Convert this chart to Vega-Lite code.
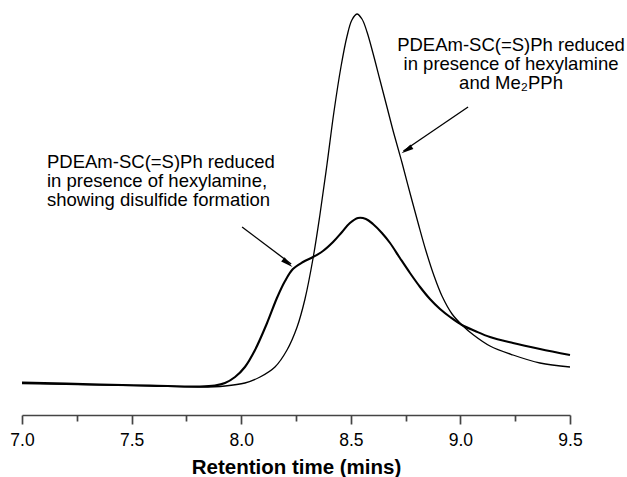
{
  "$schema": "https://vega.github.io/schema/vega-lite/v6.json",
  "autosize": {"type": "none"},
  "padding": {"left": 22, "top": 0, "right": 57, "bottom": 62},
  "width": 548,
  "height": 415,
  "background": "white",
  "config": {
    "view": {"stroke": null},
    "font": "Liberation Sans",
    "axis": {"grid": false}
  },
  "datasets": {
    "curves": [
      {"series": "thick", "time": 7.000, "signal": 32.5},
      {"series": "thick", "time": 7.356, "signal": 30.5},
      {"series": "thick", "time": 7.584, "signal": 29.5},
      {"series": "thick", "time": 7.812, "signal": 28.5},
      {"series": "thick", "time": 7.880, "signal": 29.5},
      {"series": "thick", "time": 7.926, "signal": 32},
      {"series": "thick", "time": 7.972, "signal": 38},
      {"series": "thick", "time": 8.017, "signal": 48},
      {"series": "thick", "time": 8.063, "signal": 65},
      {"series": "thick", "time": 8.118, "signal": 92},
      {"series": "thick", "time": 8.163, "signal": 117},
      {"series": "thick", "time": 8.200, "signal": 134},
      {"series": "thick", "time": 8.236, "signal": 146},
      {"series": "thick", "time": 8.282, "signal": 153},
      {"series": "thick", "time": 8.328, "signal": 158},
      {"series": "thick", "time": 8.373, "signal": 164},
      {"series": "thick", "time": 8.419, "signal": 173},
      {"series": "thick", "time": 8.460, "signal": 183},
      {"series": "thick", "time": 8.496, "signal": 192},
      {"series": "thick", "time": 8.533, "signal": 197},
      {"series": "thick", "time": 8.569, "signal": 196},
      {"series": "thick", "time": 8.601, "signal": 191},
      {"series": "thick", "time": 8.642, "signal": 182},
      {"series": "thick", "time": 8.679, "signal": 172},
      {"series": "thick", "time": 8.724, "signal": 157},
      {"series": "thick", "time": 8.770, "signal": 142},
      {"series": "thick", "time": 8.816, "signal": 128},
      {"series": "thick", "time": 8.861, "signal": 116},
      {"series": "thick", "time": 8.907, "signal": 106},
      {"series": "thick", "time": 8.953, "signal": 98},
      {"series": "thick", "time": 9.007, "signal": 90},
      {"series": "thick", "time": 9.067, "signal": 84},
      {"series": "thick", "time": 9.135, "signal": 78},
      {"series": "thick", "time": 9.240, "signal": 72},
      {"series": "thick", "time": 9.363, "signal": 66},
      {"series": "thick", "time": 9.500, "signal": 60},
      {"series": "thin", "time": 7.000, "signal": 31.5},
      {"series": "thin", "time": 7.356, "signal": 30},
      {"series": "thin", "time": 7.584, "signal": 29},
      {"series": "thin", "time": 7.812, "signal": 28},
      {"series": "thin", "time": 7.926, "signal": 29},
      {"series": "thin", "time": 8.017, "signal": 32},
      {"series": "thin", "time": 8.086, "signal": 38},
      {"series": "thin", "time": 8.154, "signal": 48},
      {"series": "thin", "time": 8.209, "signal": 65},
      {"series": "thin", "time": 8.255, "signal": 88},
      {"series": "thin", "time": 8.291, "signal": 116},
      {"series": "thin", "time": 8.328, "signal": 157},
      {"series": "thin", "time": 8.359, "signal": 200},
      {"series": "thin", "time": 8.391, "signal": 250},
      {"series": "thin", "time": 8.423, "signal": 303},
      {"series": "thin", "time": 8.455, "signal": 348},
      {"series": "thin", "time": 8.483, "signal": 379},
      {"series": "thin", "time": 8.505, "signal": 395},
      {"series": "thin", "time": 8.528, "signal": 401},
      {"series": "thin", "time": 8.551, "signal": 396},
      {"series": "thin", "time": 8.574, "signal": 383},
      {"series": "thin", "time": 8.601, "signal": 362},
      {"series": "thin", "time": 8.633, "signal": 335},
      {"series": "thin", "time": 8.665, "signal": 308},
      {"series": "thin", "time": 8.697, "signal": 281},
      {"series": "thin", "time": 8.734, "signal": 252},
      {"series": "thin", "time": 8.770, "signal": 222},
      {"series": "thin", "time": 8.807, "signal": 192},
      {"series": "thin", "time": 8.843, "signal": 164},
      {"series": "thin", "time": 8.880, "signal": 139},
      {"series": "thin", "time": 8.916, "signal": 119},
      {"series": "thin", "time": 8.962, "signal": 101},
      {"series": "thin", "time": 9.007, "signal": 90},
      {"series": "thin", "time": 9.060, "signal": 80},
      {"series": "thin", "time": 9.135, "signal": 69},
      {"series": "thin", "time": 9.240, "signal": 60},
      {"series": "thin", "time": 9.363, "signal": 52},
      {"series": "thin", "time": 9.500, "signal": 48}
    ],
    "arrows": [
      {"id": "right", "order": 1, "time": 9.035, "signal": 308},
      {"id": "right", "order": 2, "time": 8.740, "signal": 264},
      {"id": "left", "order": 1, "time": 8.004, "signal": 188},
      {"id": "left", "order": 2, "time": 8.228, "signal": 151}
    ],
    "heads": [
      {"id": "right", "time": 8.755, "signal": 265.0, "angle": 238},
      {"id": "left", "time": 8.212, "signal": 151.8, "angle": 128.5}
    ],
    "notesRight": [
      {"line": 1, "time": 9.231, "signal": 370, "text": "PDEAm-SC(=S)Ph reduced"},
      {"line": 2, "time": 9.231, "signal": 351, "text": "in presence of hexylamine"},
      {"line": 3, "time": 9.231, "signal": 332, "text": "and Me₂PPh"}
    ],
    "notesLeft": [
      {"line": 1, "time": 7.114, "signal": 253, "text": "PDEAm-SC(=S)Ph reduced"},
      {"line": 2, "time": 7.114, "signal": 234, "text": "in presence of hexylamine,"},
      {"line": 3, "time": 7.114, "signal": 215, "text": "showing disulfide formation"}
    ]
  },
  "resolve": {"scale": {"x": "shared", "y": "shared"}, "axis": {"x": "independent"}},
  "layer": [
    {
      "data": {"name": "curves"},
      "mark": {"type": "line", "interpolate": "catmull-rom", "color": "black", "strokeJoin": "round"},
      "encoding": {
        "x": {
          "field": "time", "type": "quantitative",
          "scale": {"domain": [7, 9.5], "nice": false, "zero": false},
          "axis": {
            "orient": "bottom",
            "values": [7, 7.5, 8, 8.5, 9, 9.5],
            "format": ".1f",
            "title": "Retention time (mins)",
            "titleFont": "Liberation Sans",
            "titleFontSize": 20.5,
            "titleFontWeight": "bold",
            "titleColor": "black",
            "titlePadding": 9,
            "labelFont": "Liberation Sans",
            "labelFontSize": 17.5,
            "labelColor": "black",
            "labelPadding": 7,
            "labelFlush": false,
            "domainColor": "#444444",
            "domainWidth": 1.7,
            "tickColor": "#444444",
            "tickWidth": 1.7,
            "tickSize": 9
          }
        },
        "y": {
          "field": "signal", "type": "quantitative",
          "scale": {"domain": [0, 415], "nice": false},
          "axis": null
        },
        "detail": {"field": "series"},
        "strokeWidth": {
          "field": "series", "type": "nominal",
          "scale": {"domain": ["thick", "thin"], "range": [2.1, 1.3]},
          "legend": null
        }
      }
    },
    {
      "data": {"name": "arrows"},
      "mark": {"type": "line", "color": "black", "strokeWidth": 1.3},
      "encoding": {
        "x": {
          "field": "time", "type": "quantitative",
          "axis": {
            "orient": "bottom",
            "values": [7.25, 7.75, 8.25, 8.75, 9.25],
            "labels": false,
            "domain": false,
            "title": null,
            "tickColor": "#444444",
            "tickWidth": 1.7,
            "tickSize": 6
          }
        },
        "y": {"field": "signal", "type": "quantitative", "axis": null},
        "detail": {"field": "id"},
        "order": {"field": "order"}
      }
    },
    {
      "data": {"name": "heads"},
      "mark": {"type": "point", "filled": true, "color": "black", "opacity": 1, "shape": "M0,-1L0.45,1L-0.45,1Z", "size": 150},
      "encoding": {
        "x": {"field": "time", "type": "quantitative", "axis": null},
        "y": {"field": "signal", "type": "quantitative", "axis": null},
        "angle": {"field": "angle", "type": "quantitative", "scale": null}
      }
    },
    {
      "data": {"name": "notesRight"},
      "mark": {"type": "text", "align": "center", "baseline": "middle", "font": "Liberation Sans", "fontSize": 18.5, "color": "black"},
      "encoding": {
        "x": {"field": "time", "type": "quantitative", "axis": null},
        "y": {"field": "signal", "type": "quantitative", "axis": null},
        "text": {"field": "text"}
      }
    },
    {
      "data": {"name": "notesLeft"},
      "mark": {"type": "text", "align": "left", "baseline": "middle", "font": "Liberation Sans", "fontSize": 18.5, "color": "black"},
      "encoding": {
        "x": {"field": "time", "type": "quantitative", "axis": null},
        "y": {"field": "signal", "type": "quantitative", "axis": null},
        "text": {"field": "text"}
      }
    }
  ]
}
